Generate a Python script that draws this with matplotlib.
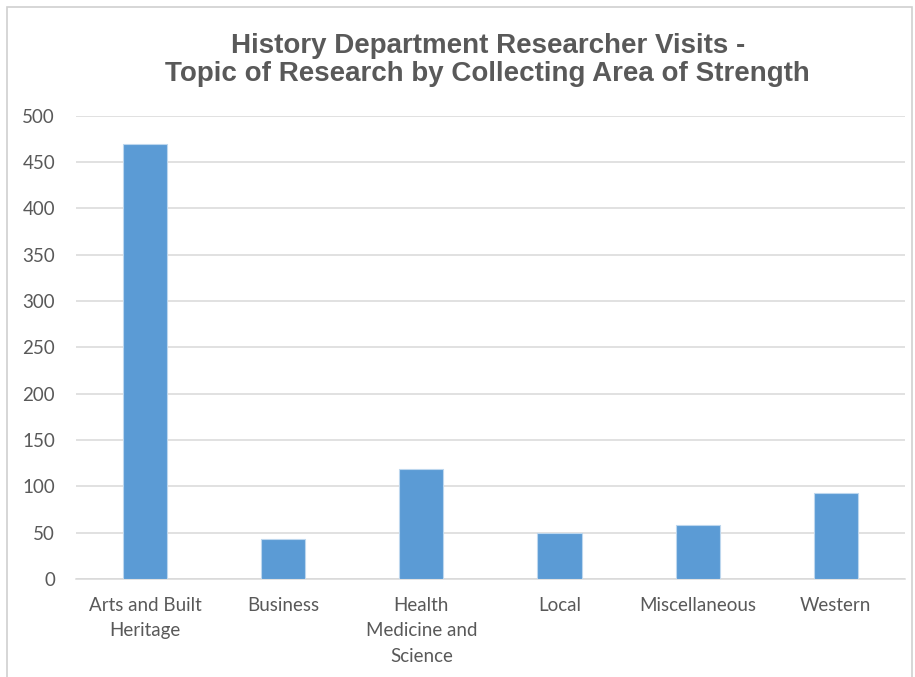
import matplotlib
matplotlib.use("Agg")
import matplotlib.pyplot as plt
from matplotlib.patches import Rectangle

# data
categories = ["Arts and Built\nHeritage", "Business", "Health\nMedicine and\nScience",
              "Local", "Miscellaneous", "Western"]
visits = [469, 43, 119, 49, 58, 93]
y_ticks = list(range(0, 501, 50))

text_grey = "#595959"
grid_grey = "#D9D9D9"
bar_blue = "#5B9BD5"

fig = plt.figure(figsize=(9.15, 6.77), dpi=100)
ax = fig.add_axes([0.083, 0.145, 0.906, 0.684])

# chart-area border like the Excel frame
fig.patches.append(Rectangle((7 / 915, -0.01), 905 / 915, 1 - 7 / 677 + 0.01,
                             transform=fig.transFigure, fill=False,
                             edgecolor="#D0D0D0", linewidth=1.2))

x = list(range(len(categories)))
ax.bar(x, visits, width=0.32, color=bar_blue, edgecolor="#BDD7EE", linewidth=0.8, zorder=3)

ax.set_xlim(-0.5, len(categories) - 0.5)
ax.set_ylim(0, 500)
ax.set_yticks(y_ticks)
ax.set_xticks(x)
ax.set_xticklabels(categories, linespacing=1.6)

ax.grid(axis="y", color=grid_grey, linewidth=1.1, zorder=0)
for side in ["top", "right", "left"]:
    ax.spines[side].set_visible(False)
ax.spines["bottom"].set_color(grid_grey)
ax.spines["bottom"].set_linewidth(1.1)

ax.tick_params(axis="both", length=0, labelcolor=text_grey, labelsize=13.5)
ax.tick_params(axis="y", pad=15)
ax.tick_params(axis="x", pad=13)
for lbl in ax.get_xticklabels() + ax.get_yticklabels():
    lbl.set_family("Lato")

fig.text(0.533, 0.911, "History Department Researcher Visits -\nTopic of Research by Collecting Area of Strength",
         ha="center", va="center", fontsize=20, fontweight="bold", color=text_grey,
         family="Liberation Sans", linespacing=1.12)

fig.savefig("out.png", dpi=100)
